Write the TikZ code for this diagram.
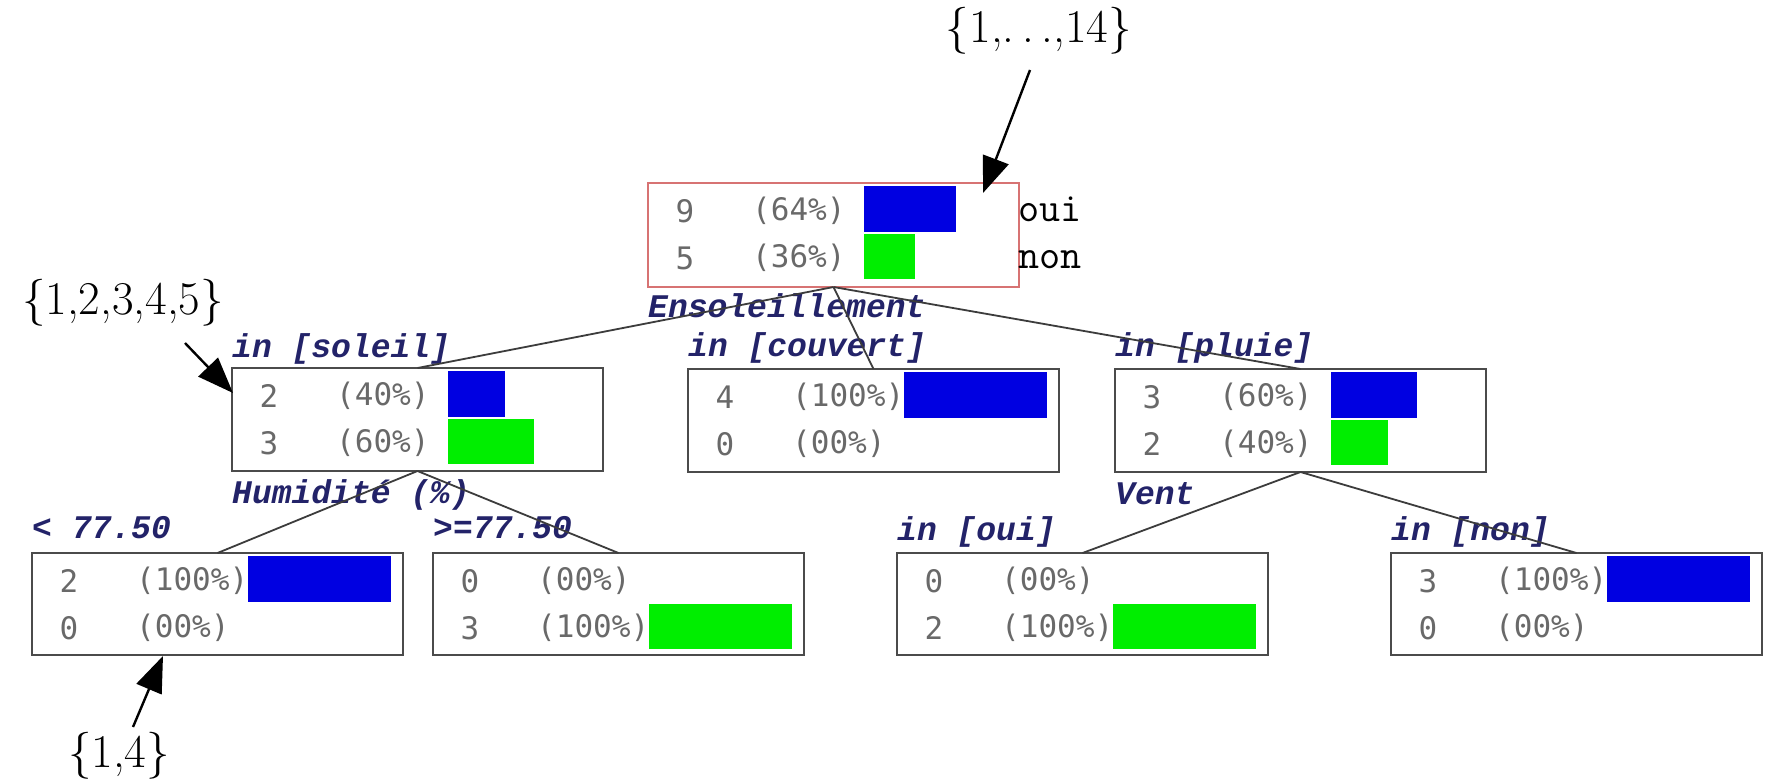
\documentclass[tikz,border=0pt]{standalone}
\usepackage{fontspec}
\usetikzlibrary{arrows.meta,calc}
\newfontfamily\lblfont{Liberation Mono}
\newfontfamily\numfont{DejaVu Sans Mono}
\definecolor{barblue}{RGB}{0,0,225}
\definecolor{bargreen}{RGB}{0,238,0}
\definecolor{lblcol}{RGB}{35,35,105}
\definecolor{numcol}{RGB}{105,105,105}
\definecolor{boxcol}{RGB}{75,75,75}
\definecolor{rootcol}{RGB}{215,115,115}
\definecolor{linecol}{RGB}{60,60,60}
\tikzset{
  tbox/.style={draw=boxcol, line width=2.6pt, fill=white, minimum width=371pt,
    minimum height=102pt, inner sep=0pt, outer sep=0pt, anchor=north west},
  lvlbox/.style={tbox, minimum height=103pt},
  rootbox/.style={tbox, draw=rootcol, minimum height=104pt},
  numtxt/.style={font=\numfont\fontsize{31}{36}\selectfont, text=numcol, inner sep=0pt},
  lbl/.style={font=\lblfont\bfseries\itshape\fontsize{33}{38}\selectfont, text=lblcol,
    inner sep=0pt, anchor=base west},
  settxt/.style={font=\fontsize{47}{56}\selectfont, inner sep=0pt},
  clstxt/.style={font=\ttfamily\fontsize{41}{48}\selectfont, inner sep=0pt, anchor=base west},
  conn/.style={draw=linecol, line width=1.8pt},
  annarrow/.style={draw=black, line width=2.4pt, -{Triangle[length=36pt,width=27pt]}},
}
% #1 name, #2 x, #3 y, #4 n1, #5 pct1, #6 n2, #7 pct2, #8 style
\newcommand\treenode[8]{%
  \node[#8] (#1) at (#2,#3) {};
  \node[numtxt] (#1na) at ($(#1.north west)+(37,28)$) {#4};
  \node[numtxt, anchor=west] (#1pa) at ($(#1.north west)+(104,28)$) {(#5\%)};
  \node[numtxt] (#1nb) at ($(#1.north west)+(37,75)$) {#6};
  \node[numtxt, anchor=west] (#1pb) at ($(#1.north west)+(104,75)$) {(#7\%)};
  \ifnum#5>0 \fill[barblue] ($(#1.north west)+(216,3)$) rectangle ++(1.43*#5,46);\fi
  \ifnum#7>0 \fill[bargreen] ($(#1.north west)+(216,51)$) rectangle ++(1.43*#7,45);\fi
}
\begin{document}
\begin{tikzpicture}[x=1pt,y=-1pt]
\useasboundingbox[fill=white] (0,0) rectangle (1768,780);

% boxes
\treenode{root}{648}{183}{9}{64}{5}{36}{rootbox}
\treenode{sol}{232}{368}{2}{40}{3}{60}{lvlbox}
\treenode{cou}{688}{369}{4}{100}{0}{00}{lvlbox}
\treenode{plu}{1115}{369}{3}{60}{2}{40}{lvlbox}
\treenode{la}{32}{553}{2}{100}{0}{00}{tbox}
\treenode{lb}{433}{553}{0}{00}{3}{100}{tbox}
\treenode{lc}{897}{553}{0}{00}{2}{100}{tbox}
\treenode{ld}{1391}{553}{3}{100}{0}{00}{tbox}

% class names
\node[clstxt] (oui) at (1018,221) {oui};
\node[clstxt] (non) at (1018,268) {non};

% labels
\node[lbl] (lens) at ($(root.south west)+(0,30)$) {Ensoleillement};
\node[lbl] (lsol) at ($(sol.north west)+(0,-11)$) {in [soleil]};
\node[lbl] (lcou) at ($(cou.north west)+(0,-13)$) {in [couvert]};
\node[lbl] (lplu) at ($(plu.north west)+(0,-13)$) {in [pluie]};
\node[lbl] (lhum) at ($(sol.south west)+(0,32)$) {Humidité (\%)};
\node[lbl] (lven) at ($(plu.south west)+(0,32)$) {Vent};
\node[lbl] (lla) at ($(la.north west)+(0,-15)$) {< 77.50};
\node[lbl] (llb) at ($(lb.north west)+(0,-15)$) {>=77.50};
\node[lbl] (llc) at ($(lc.north west)+(0,-13)$) {in [oui]};
\node[lbl] (lld) at ($(ld.north west)+(0,-13)$) {in [non]};

% connectors
\draw[conn] (root.south) -- (sol.north);
\draw[conn] (root.south) -- (cou.north);
\draw[conn] (root.south) -- (plu.north);
\draw[conn] (sol.south) -- (la.north);
\draw[conn] (sol.south) -- (lb.north);
\draw[conn] (plu.south) -- (lc.north);
\draw[conn] (plu.south) -- (ld.north);

% annotations
\node[settxt] (s14) at (1039,31) {\{1,.\,.\,.,14\}};
\node[settxt] (s5) at (123,303) {\{1,2,3,4,5\}};
\node[settxt] (s4) at (119,756) {\{1,4\}};
\coordinate (s14a) at (1030,70);
\coordinate (s14b) at (983,193);
\coordinate (s5a) at (185,343);
\coordinate (s5b) at (233,393);
\coordinate (s4a) at (133,727);
\coordinate (s4b) at (163,656);
\draw[annarrow] (s14a) -- (s14b);
\draw[annarrow] (s5a) -- (s5b);
\draw[annarrow] (s4a) -- (s4b);
\end{tikzpicture}
\end{document}
